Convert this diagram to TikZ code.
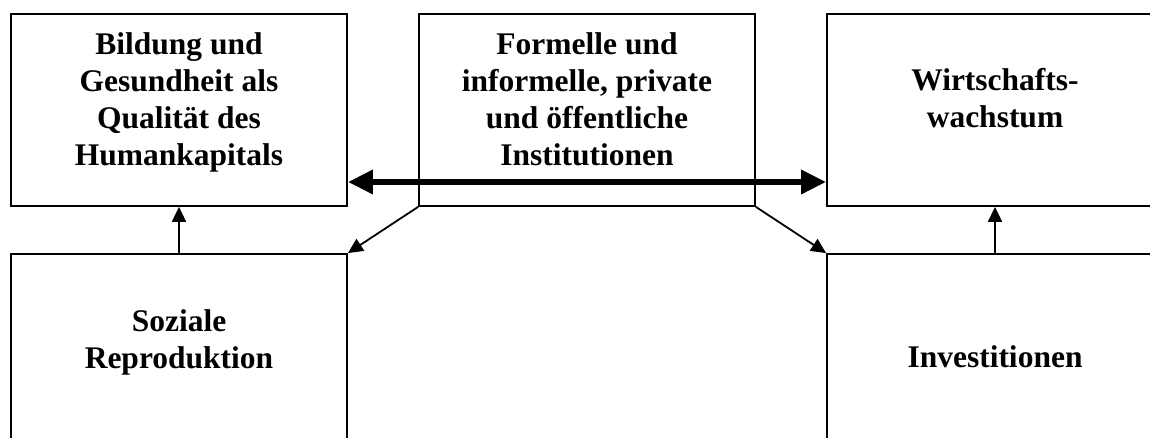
\documentclass[tikz,border=0pt]{standalone}
\usepackage{fontspec}
\setmainfont{Liberation Serif}
\usetikzlibrary{arrows.meta}
\tikzset{
  box/.style={draw, line width=1.8pt, minimum width=336pt, inner sep=0pt},
  lbl/.style={anchor=base, inner sep=0pt, font=\fontsize{31.5}{36.7}\selectfont\bfseries},
  thin/.style={line width=1.8pt, -{Triangle[length=15pt,width=14pt]}},
  thick/.style={line width=6.5pt, {Triangle[length=25pt,width=23pt]}-{Triangle[length=25pt,width=23pt]}}
}
\newcommand{\lines}[1]{\setlength{\tabcolsep}{0pt}\begin{tabular}[t]{c}#1\end{tabular}}
\begin{document}
\begin{tikzpicture}[x=1pt,y=1pt]
\useasboundingbox (0,0) rectangle (1150,438);
\clip (0,0) rectangle (1150,438);
\node[box, minimum height=192pt] (A) at (179,328) {};
\node[box, minimum height=192pt] (C) at (587,328) {};
\node[box, minimum height=192pt] (W) at (995,328) {};
\node[box, minimum height=216pt] (S) at (179,76) {};
\node[box, minimum height=216pt] (I) at (995,76) {};
\node[lbl] (tA) at (179,383) {\lines{Bildung und\\Gesundheit als\\Qualität des\\Humankapitals}};
\node[lbl] (tC) at (587,383) {\lines{Formelle und\\informelle, private\\und öffentliche\\Institutionen}};
\node[lbl] (tW) at (995,347) {\lines{Wirtschafts-\\wachstum}};
\node[lbl] (tS) at (179,106) {\lines{Soziale\\Reproduktion}};
\node[lbl] (tI) at (995,70) {\lines{Investitionen}};
\coordinate (mid) at (587,256);
\draw[thick] (mid -| A.east) -- (mid -| W.west);
\draw[thin] (S.north) -- (A.south);
\draw[thin] (I.north) -- (W.south);
\draw[thin] (C.south west) -- (S.north east);
\draw[thin] (C.south east) -- (I.north west);
\end{tikzpicture}
\end{document}
